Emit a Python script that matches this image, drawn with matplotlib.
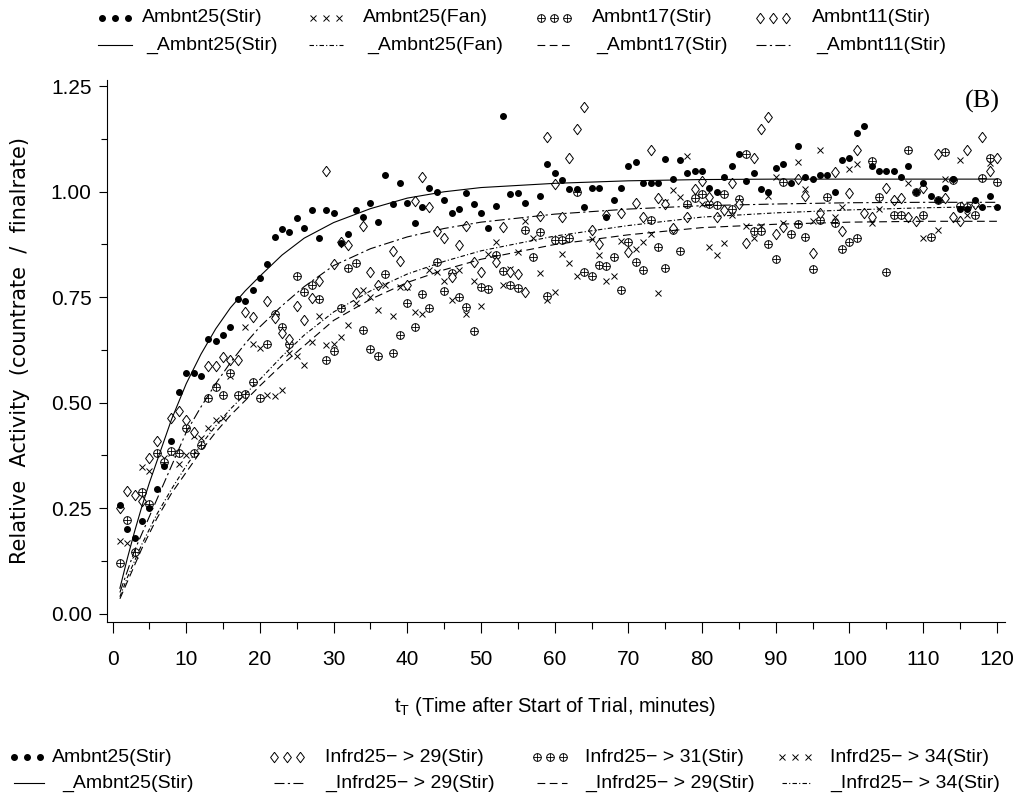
import numpy as np
import matplotlib
matplotlib.use("Agg")
import matplotlib.pyplot as plt
from matplotlib.lines import Line2D

plt.rcParams["font.family"] = ["Liberation Sans", "DejaVu Sans"]
plt.rcParams["mathtext.fontset"] = "custom"
plt.rcParams["mathtext.rm"] = "Liberation Sans"
plt.rcParams["mathtext.it"] = "Liberation Sans"

# ---- values (one reading per minute, None = not visible) ----
minutes = np.arange(1, 121)

stir25 = [0.258, 0.20, 0.178, 0.22, 0.25, 0.296, 0.35, 0.41, 0.525, 0.57,
          0.57, 0.563, 0.65, 0.647, 0.66, 0.68, 0.745, 0.74, 0.767, 0.795,
          0.828, 0.893, 0.911, 0.905, 0.937, 0.913, 0.956, 0.89, 0.957, 0.95,
          0.878, 0.90, 0.956, 0.94, 0.973, 0.928, 1.04, 0.97, 1.02, 0.973,
          0.926, 0.965, 1.008, 1.0, 0.98, 0.95, 0.96, 0.998, 0.97, 0.95,
          0.914, 0.966, 1.18, 0.994, 0.998, 0.973, None, 0.99, 1.065, 1.044,
          1.027, 1.006, 1.007, 0.964, 1.01, 1.009, 0.94, 0.98, 1.009, 1.06,
          1.07, 1.02, 1.02, 1.02, 1.077, 1.03, 1.075, 1.045, 1.05, 1.05,
          1.01, 1.0, 1.035, 1.06, 1.09, 1.025, 1.045, 1.006, 1.0, 1.056,
          1.067, 1.02, 1.108, 1.035, 1.03, 1.04, 1.04, 1.0, 1.075, 1.08,
          1.14, 1.155, 1.06, 1.05, 1.05, 1.05, 1.035, 1.06, 1.0, 1.02,
          0.99, 0.98, 1.01, 1.03, 0.96, 0.96, 0.98, 0.965, 0.99, 0.965]

stir11 = [0.25, 0.29, 0.28, 0.268, 0.37, 0.41, None, 0.464, 0.48, 0.46,
          0.43, None, 0.587, 0.587, 0.608, 0.60, 0.60, 0.715, 0.703, None,
          0.74, 0.70, 0.665, 0.65, 0.73, 0.696, 0.748, 0.789, 1.05, 0.828,
          0.88, 0.873, 0.76, 0.92, 0.81, 0.78, None, 0.86, 0.837, 0.78,
          0.978, 1.035, 0.964, 0.907, 0.89, 0.797, 0.873, 0.92, 0.833, 0.81,
          None, 0.833, 0.916, 0.81, 0.805, 0.763, None, 0.942, 1.13, 1.018,
          0.94, 1.08, 1.15, 1.20, 0.91, 0.877, 0.945, None, 0.95, 0.857,
          0.973, 0.94, 1.10, 0.985, 0.97, 0.914, None, 0.94, 1.006, 1.025,
          0.987, 0.94, 0.956, 1.02, 0.97, 0.878, 1.08, 1.148, 1.177, 0.90,
          0.916, None, 1.03, 0.99, 0.854, 0.95, None, 1.047, 0.907, 0.997,
          1.10, 0.95, 0.94, None, 1.01, 0.98, 0.985, 0.94, 0.93, 1.01,
          None, 1.09, 0.986, 0.94, 0.93, 1.10, 0.97, 1.13, 1.05, 1.08]

stir17 = [0.12, 0.222, 0.145, 0.289, 0.26, 0.38, 0.36, 0.386, 0.38, 0.44,
          0.38, 0.40, 0.51, 0.537, 0.518, 0.57, 0.518, 0.52, 0.55, 0.51,
          0.64, 0.71, 0.68, 0.64, 0.80, 0.763, 0.78, 0.746, 0.60, 0.623,
          0.724, 0.82, 0.83, 0.672, 0.627, 0.61, 0.805, 0.618, 0.66, 0.737,
          0.68, 0.758, 0.724, 0.833, 0.765, 0.807, 0.75, 0.727, 0.67, 0.774,
          0.77, 0.85, 0.812, 0.78, 0.772, 0.909, 0.845, 0.905, 0.753, 0.885,
          0.886, 0.89, 1.0, 0.81, 0.80, 0.826, 0.825, 0.845, 0.767, 0.88,
          0.833, 0.814, 0.933, 0.87, 0.82, 0.909, 0.86, 0.97, 0.985, 0.994,
          0.97, 0.968, 0.994, 0.959, 0.982, 1.09, 0.907, 0.907, 0.876, 0.84,
          1.023, 0.90, 0.923, 0.892, 0.817, 0.933, 0.987, 0.925, 0.864, 0.88,
          0.89, None, 1.072, 0.987, 0.81, 0.945, 0.944, 1.10, 1.0, 0.944,
          0.892, 0.98, 1.094, 1.027, 0.966, 0.965, 0.944, 1.032, 1.08, 1.023]

fan25 = [0.173, 0.168, 0.14, 0.348, 0.339, None, 0.37, 0.38, 0.355, 0.376,
         0.42, 0.417, 0.44, 0.46, 0.464, 0.563, None, 0.68, 0.64, 0.63,
         0.518, 0.515, 0.53, 0.618, 0.61, 0.59, 0.644, 0.705, 0.637, 0.64,
         0.656, 0.684, 0.736, 0.767, 0.75, 0.72, 0.779, 0.705, 0.774, 0.774,
         0.715, 0.71, 0.814, 0.81, 0.788, 0.743, 0.814, 0.71, 0.788, 0.73,
         0.852, 0.88, 0.779, 0.817, 0.857, 0.93, 0.89, 0.807, 0.743, 0.762,
         0.852, 0.83, 0.80, None, 0.888, 0.85, 0.788, 0.80, 0.883, None,
         0.864, 0.88, 0.90, 0.76, 0.975, 1.004, 0.987, 1.084, None, 0.97,
         0.869, 0.85, 0.878, 0.945, None, 0.918, 0.89, 0.918, 0.99, 1.035,
         0.925, None, 1.07, 1.006, 0.93, 1.10, None, 0.94, 0.963, 1.053,
         1.065, None, 0.925, 0.96, None, None, None, 1.02, None, 0.89,
         None, 0.909, 1.03, None, 1.075, 0.944, None, None, 1.068, None]

# fitted curves, sampled off the figure
fit_t = [1, 2, 3, 4, 5, 6, 8, 10, 12, 14, 16, 18, 20, 23, 26, 30, 35,
         40, 45, 50, 60, 70, 80, 90, 100, 110, 120]
fit_stir25 = [0.06, 0.13, 0.195, 0.255, 0.31, 0.36, 0.46, 0.545, 0.615, 0.675,
              0.725, 0.765, 0.80, 0.85, 0.89, 0.927, 0.96, 0.985, 1.0, 1.01,
              1.02, 1.026, 1.029, 1.03, 1.03, 1.03, 1.03]
fit_stir11 = [0.05, 0.10, 0.15, 0.19, 0.23, 0.27, 0.35, 0.43, 0.49, 0.545,
              0.595, 0.64, 0.68, 0.73, 0.775, 0.825, 0.865, 0.893, 0.913, 0.928,
              0.947, 0.959, 0.967, 0.971, 0.974, 0.975, 0.975]
fit_fan25 = [0.04, 0.085, 0.125, 0.165, 0.20, 0.235, 0.295, 0.35, 0.40, 0.445,
             0.485, 0.52, 0.555, 0.61, 0.66, 0.715, 0.765, 0.805, 0.835, 0.86,
             0.895, 0.92, 0.94, 0.95, 0.957, 0.962, 0.965]
fit_stir17 = [0.035, 0.075, 0.115, 0.155, 0.19, 0.225, 0.285, 0.335, 0.385, 0.43,
              0.47, 0.505, 0.54, 0.59, 0.635, 0.695, 0.745, 0.785, 0.815, 0.84,
              0.875, 0.898, 0.915, 0.923, 0.928, 0.93, 0.93]

top_labels = ["Ambnt25(Stir)", "Ambnt25(Fan)", "Ambnt17(Stir)", "Ambnt11(Stir)"]
top_fit_labels = ["_Ambnt25(Stir)", "_Ambnt25(Fan)", "_Ambnt17(Stir)", "_Ambnt11(Stir)"]
bot_labels = ["Ambnt25(Stir)", "Infrd25\u2212 > 29(Stir)", "Infrd25\u2212 > 31(Stir)",
              "Infrd25\u2212 > 34(Stir)"]
bot_fit_labels = ["_Ambnt25(Stir)", "_Infrd25\u2212 > 29(Stir)", "_Infrd25\u2212 > 29(Stir)",
                  "_Infrd25\u2212 > 34(Stir)"]

# styles
DIAMOND_PATH = [(0, 1), (0.75, 0), (0, -1), (-0.75, 0), (0, 1)]
DOT = dict(marker="o", ms=4.0, mfc="k", mec="k", ls="none")
CROSS = dict(marker="x", ms=4.0, mec="k", mew=0.7, ls="none")
CIRC = dict(marker="o", ms=5.5, mfc="white", mec="k", mew=0.7, ls="none")
PLUS = dict(marker="+", ms=5.5, mec="k", mew=0.6, ls="none")
DIAM = dict(marker=DIAMOND_PATH, ms=7.5, mfc="white", mec="k", mew=0.7, ls="none")
LS_25 = "-"
LS_11 = (0, (9, 3, 2, 3))
LS_FAN = (0, (4, 2, 1, 2))
LS_17 = (0, (7, 4))

W, H = 1018, 802
fig = plt.figure(figsize=(W / 100, H / 100), dpi=100)
ax = fig.add_axes([107 / W, 1 - 622 / H, (1005 - 107) / W, (622 - 80) / H])

t = minutes
ax.plot(t, np.array(fan25, dtype=float), **CROSS)
ax.plot(t, np.array(stir17, dtype=float), **CIRC)
ax.plot(t, np.array(stir17, dtype=float), **PLUS)
ax.plot(t, np.array(stir11, dtype=float), **DIAM)
ax.plot(t, np.array(stir25, dtype=float), **DOT)

ax.plot(fit_t, fit_stir25, color="k", lw=0.8, ls=LS_25)
ax.plot(fit_t, fit_stir11, color="k", lw=0.8, ls=LS_11)
ax.plot(fit_t, fit_fan25, color="k", lw=0.8, ls=LS_FAN)
ax.plot(fit_t, fit_stir17, color="k", lw=0.8, ls=LS_17)

ax.set_xlim(-0.75, 121.1)
ax.set_ylim(-0.02, 1.265)
ax.set_xticks(range(0, 121, 10))
ax.set_xticks(range(5, 121, 10), minor=True)
ax.set_yticks([0, 0.25, 0.5, 0.75, 1.0, 1.25])
ax.set_yticks([0.125, 0.375, 0.625, 0.875, 1.125], minor=True)
ax.set_yticklabels(["%.2f" % v for v in [0, 0.25, 0.5, 0.75, 1.0, 1.25]])
ax.tick_params(axis="x", which="major", length=8, width=0.8, pad=12, labelsize=15)
ax.tick_params(axis="x", which="minor", length=5, width=0.8)
ax.tick_params(axis="y", which="major", length=6, width=0.8, pad=5, labelsize=15)
ax.tick_params(axis="y", which="minor", length=4, width=0.8)
for s in ["top", "right"]:
    ax.spines[s].set_visible(False)
for s in ["left", "bottom"]:
    ax.spines[s].set_linewidth(0.8)

fig.text(1000 / W, 1 - 101 / H, "(B)", family="Liberation Serif", fontsize=19,
         ha="right", va="center")
fig.text(20 / W, 1 - 350 / H, "Relative  Activity  (countrate  /  finalrate)",
         rotation=90, family="DejaVu Sans", fontsize=15, ha="center", va="center")
fig.text(555 / W, 1 - 707 / H, "t$_\\mathrm{T}$ (Time after Start of Trial, minutes)",
         fontsize=14.5, ha="center", va="center")


def fx(x):
    return x / W


def fy(y):
    return 1 - y / H


def marks(xs, y, styles):
    for st in styles:
        fig.add_artist(Line2D([fx(x) for x in xs], [fy(y)] * len(xs),
                              transform=fig.transFigure, **st))


def sample(x0, x1, y, ls):
    fig.add_artist(Line2D([fx(x0), fx(x1)], [fy(y)] * 2, transform=fig.transFigure,
                          color="k", lw=0.8, ls=ls))


# top legend
top_marks = [[DOT], [CROSS], [CIRC, PLUS], [DIAM]]
top_ls = [LS_25, LS_FAN, LS_17, LS_11]
top_mx = [102, 313, 541, 760]
top_tx = [142, 363, 592, 812]
for i in range(4):
    x0 = top_mx[i]
    marks([x0, x0 + 13, x0 + 26], 18, top_marks[i])
    fig.text(fx(top_tx[i]), fy(18), top_labels[i], fontsize=14, va="center")
    sample(x0 - 4, x0 + 30, 45, top_ls[i])
    fig.text(fx(top_tx[i] + 4), fy(45), top_fit_labels[i], fontsize=14, va="center")

# bottom legend
bot_marks = [[DOT], [DIAM], [CIRC, PLUS], [CROSS]]
bot_ls = [LS_25, LS_11, LS_17, LS_FAN]
bot_mx = [14, 274, 537, 782]
bot_tx = [52, 325, 585, 830]
bot_tx2 = [62, 325, 585, 830]
for i in range(4):
    x0 = bot_mx[i]
    marks([x0, x0 + 13, x0 + 26], 757, bot_marks[i])
    fig.text(fx(bot_tx[i]), fy(757), bot_labels[i], fontsize=14, va="center")
    sample(x0, x0 + 30, 783, bot_ls[i])
    fig.text(fx(bot_tx2[i]), fy(783), bot_fit_labels[i], fontsize=14, va="center")

fig.savefig("out.png", dpi=100)
